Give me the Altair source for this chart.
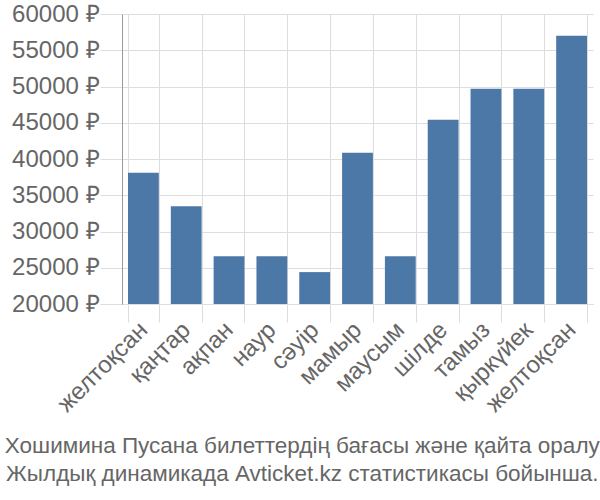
import altair as alt
import pandas as pd

months = ["желтоқсан", "қаңтар", "ақпан", "наур", "сәуір", "мамыр",
          "маусым", "шілде", "тамыз", "қыркүйек", "желтоқсан"]
prices = [38100, 33500, 26600, 26600, 24400, 40850, 26600, 45400, 49700, 49700, 57000]
y_ticks = [20000, 25000, 30000, 35000, 40000, 45000, 50000, 55000, 60000]
title_lines = ["Хошимина Пусана билеттердің бағасы және қайта оралу",
               "Жылдық динамикада Avticket.kz статистикасы бойынша."]

df = pd.DataFrame({"idx": list(range(len(months))), "month": months, "price": prices})

label_arr = "[" + ",".join("'" + m + "'" for m in months) + "]"

FONT = "Liberation Sans"

chart = alt.Chart(df).mark_bar(color="#4c78a8").encode(
    x=alt.X("idx:O", title=None,
            scale=alt.Scale(paddingInner=0.28, paddingOuter=0.14),
            axis=alt.Axis(labelExpr=label_arr + "[datum.value]", labelAngle=-45,
                          labelAlign="right", labelBaseline="middle",
                          labelFontSize=24, labelColor="#666666", labelFont=FONT,
                          grid=True, gridColor="#dddddd", tickBand="extent",
                          tickColor="#dddddd", tickSize=18, labelPadding=4,
                          domainColor="#dddddd")),
    y=alt.Y("price:Q", title=None,
            scale=alt.Scale(domain=[20000, 60000], zero=False, nice=False),
            axis=alt.Axis(values=y_ticks, labelExpr="datum.value + ' ₽'",
                          labelFontSize=24, labelColor="#666666", labelFont=FONT,
                          gridColor="#dddddd", tickColor="#dddddd", tickSize=22,
                          domainColor="#999999", labelPadding=1)),
    y2=alt.datum(20000),
).properties(
    width=471, height=290,
    padding={"left": 122, "top": 14, "right": 7, "bottom": 196},
    autosize=alt.AutoSizeParams(type="none"),
    title=alt.TitleParams(text=title_lines, orient="bottom", anchor="middle",
                          frame="bounds",
                          fontSize=22.5, font=FONT, fontWeight="normal",
                          color="#666666", lineHeight=28, offset=19),
).configure_view(stroke=None)

chart.save("out.html", embed_options={"renderer": "svg", "actions": False})
